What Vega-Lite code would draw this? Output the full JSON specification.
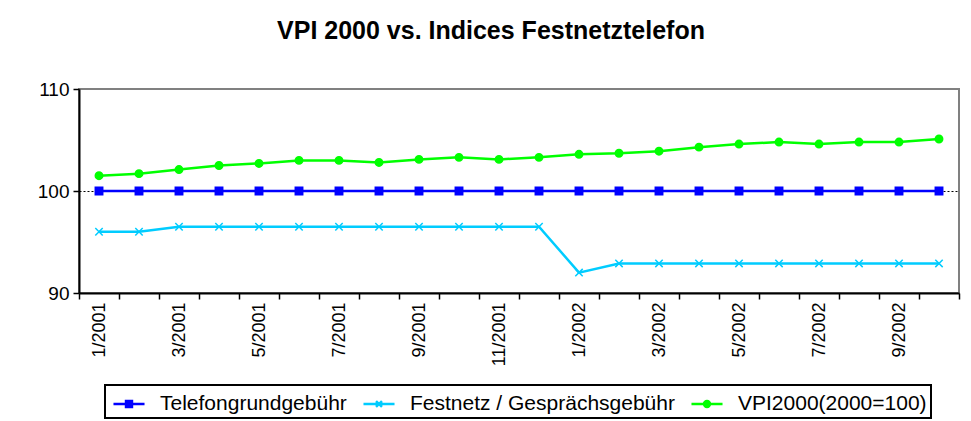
{
  "$schema": "https://vega.github.io/schema/vega-lite/v6.json",
  "width": 880,
  "height": 204,
  "autosize": {"type": "none"},
  "padding": {"left": 79, "top": 89, "right": 12, "bottom": 128},
  "background": "white",
  "title": {
    "text": "VPI 2000 vs. Indices Festnetztelefon",
    "font": "Liberation Sans",
    "fontSize": 25,
    "fontWeight": "bold",
    "color": "black",
    "anchor": "middle",
    "frame": "group",
    "dx": -28,
    "offset": 36
  },
  "config": {
    "view": {"stroke": "#808080", "strokeWidth": 2},
    "font": "Liberation Sans"
  },
  "data": {
    "values": [
      {"m": "1/2001", "s": "Telefongrundgebühr", "v": 100}, {"m": "1/2001", "s": "Festnetz / Gesprächsgebühr", "v": 96.0}, {"m": "1/2001", "s": "VPI2000(2000=100)", "v": 101.5},
      {"m": "2/2001", "s": "Telefongrundgebühr", "v": 100}, {"m": "2/2001", "s": "Festnetz / Gesprächsgebühr", "v": 96.0}, {"m": "2/2001", "s": "VPI2000(2000=100)", "v": 101.7},
      {"m": "3/2001", "s": "Telefongrundgebühr", "v": 100}, {"m": "3/2001", "s": "Festnetz / Gesprächsgebühr", "v": 96.5}, {"m": "3/2001", "s": "VPI2000(2000=100)", "v": 102.1},
      {"m": "4/2001", "s": "Telefongrundgebühr", "v": 100}, {"m": "4/2001", "s": "Festnetz / Gesprächsgebühr", "v": 96.5}, {"m": "4/2001", "s": "VPI2000(2000=100)", "v": 102.5},
      {"m": "5/2001", "s": "Telefongrundgebühr", "v": 100}, {"m": "5/2001", "s": "Festnetz / Gesprächsgebühr", "v": 96.5}, {"m": "5/2001", "s": "VPI2000(2000=100)", "v": 102.7},
      {"m": "6/2001", "s": "Telefongrundgebühr", "v": 100}, {"m": "6/2001", "s": "Festnetz / Gesprächsgebühr", "v": 96.5}, {"m": "6/2001", "s": "VPI2000(2000=100)", "v": 103.0},
      {"m": "7/2001", "s": "Telefongrundgebühr", "v": 100}, {"m": "7/2001", "s": "Festnetz / Gesprächsgebühr", "v": 96.5}, {"m": "7/2001", "s": "VPI2000(2000=100)", "v": 103.0},
      {"m": "8/2001", "s": "Telefongrundgebühr", "v": 100}, {"m": "8/2001", "s": "Festnetz / Gesprächsgebühr", "v": 96.5}, {"m": "8/2001", "s": "VPI2000(2000=100)", "v": 102.8},
      {"m": "9/2001", "s": "Telefongrundgebühr", "v": 100}, {"m": "9/2001", "s": "Festnetz / Gesprächsgebühr", "v": 96.5}, {"m": "9/2001", "s": "VPI2000(2000=100)", "v": 103.1},
      {"m": "10/2001", "s": "Telefongrundgebühr", "v": 100}, {"m": "10/2001", "s": "Festnetz / Gesprächsgebühr", "v": 96.5}, {"m": "10/2001", "s": "VPI2000(2000=100)", "v": 103.3},
      {"m": "11/2001", "s": "Telefongrundgebühr", "v": 100}, {"m": "11/2001", "s": "Festnetz / Gesprächsgebühr", "v": 96.5}, {"m": "11/2001", "s": "VPI2000(2000=100)", "v": 103.1},
      {"m": "12/2001", "s": "Telefongrundgebühr", "v": 100}, {"m": "12/2001", "s": "Festnetz / Gesprächsgebühr", "v": 96.5}, {"m": "12/2001", "s": "VPI2000(2000=100)", "v": 103.3},
      {"m": "1/2002", "s": "Telefongrundgebühr", "v": 100}, {"m": "1/2002", "s": "Festnetz / Gesprächsgebühr", "v": 92.0}, {"m": "1/2002", "s": "VPI2000(2000=100)", "v": 103.6},
      {"m": "2/2002", "s": "Telefongrundgebühr", "v": 100}, {"m": "2/2002", "s": "Festnetz / Gesprächsgebühr", "v": 92.9}, {"m": "2/2002", "s": "VPI2000(2000=100)", "v": 103.7},
      {"m": "3/2002", "s": "Telefongrundgebühr", "v": 100}, {"m": "3/2002", "s": "Festnetz / Gesprächsgebühr", "v": 92.9}, {"m": "3/2002", "s": "VPI2000(2000=100)", "v": 103.9},
      {"m": "4/2002", "s": "Telefongrundgebühr", "v": 100}, {"m": "4/2002", "s": "Festnetz / Gesprächsgebühr", "v": 92.9}, {"m": "4/2002", "s": "VPI2000(2000=100)", "v": 104.3},
      {"m": "5/2002", "s": "Telefongrundgebühr", "v": 100}, {"m": "5/2002", "s": "Festnetz / Gesprächsgebühr", "v": 92.9}, {"m": "5/2002", "s": "VPI2000(2000=100)", "v": 104.6},
      {"m": "6/2002", "s": "Telefongrundgebühr", "v": 100}, {"m": "6/2002", "s": "Festnetz / Gesprächsgebühr", "v": 92.9}, {"m": "6/2002", "s": "VPI2000(2000=100)", "v": 104.8},
      {"m": "7/2002", "s": "Telefongrundgebühr", "v": 100}, {"m": "7/2002", "s": "Festnetz / Gesprächsgebühr", "v": 92.9}, {"m": "7/2002", "s": "VPI2000(2000=100)", "v": 104.6},
      {"m": "8/2002", "s": "Telefongrundgebühr", "v": 100}, {"m": "8/2002", "s": "Festnetz / Gesprächsgebühr", "v": 92.9}, {"m": "8/2002", "s": "VPI2000(2000=100)", "v": 104.8},
      {"m": "9/2002", "s": "Telefongrundgebühr", "v": 100}, {"m": "9/2002", "s": "Festnetz / Gesprächsgebühr", "v": 92.9}, {"m": "9/2002", "s": "VPI2000(2000=100)", "v": 104.8},
      {"m": "10/2002", "s": "Telefongrundgebühr", "v": 100}, {"m": "10/2002", "s": "Festnetz / Gesprächsgebühr", "v": 92.9}, {"m": "10/2002", "s": "VPI2000(2000=100)", "v": 105.1}
    ]
  },
  "encoding": {
    "x": {
      "field": "m",
      "type": "nominal",
      "sort": null,
      "scale": {"paddingInner": 0, "paddingOuter": 0},
      "axis": {
        "title": null,
        "tickBand": "extent",
        "labelAngle": -90,
        "labelAlign": "right",
        "labelBaseline": "middle",
        "labelFont": "Liberation Sans",
        "labelFontSize": 18,
        "labelColor": "black",
        "labelPadding": 3,
        "labelOverlap": false,
        "labelExpr": "indexof(['1','3','5','7','9','11'], split(datum.value, '/')[0]) >= 0 ? datum.value : ''",
        "tickColor": "black",
        "tickSize": 6,
        "tickWidth": 1.5,
        "domainColor": "black",
        "domainWidth": 2,
        "grid": false
      }
    },
    "y": {
      "field": "v",
      "type": "quantitative",
      "scale": {"domain": [90, 110], "nice": false, "zero": false},
      "axis": {
        "title": null,
        "values": [90, 100, 110],
        "labelFont": "Liberation Sans",
        "labelFontSize": 19,
        "labelColor": "black",
        "labelPadding": 4,
        "tickColor": "black",
        "tickSize": 6,
        "tickWidth": 1.5,
        "domainColor": "black",
        "domainWidth": 2,
        "grid": true,
        "gridColor": "black",
        "gridDash": [2, 2],
        "gridWidth": 1,
        "gridOpacity": {"condition": {"test": "datum.value == 100", "value": 1}, "value": 0}
      }
    }
  },
  "layer": [
    {
      "mark": {"type": "line", "strokeWidth": 2.5},
      "encoding": {
        "color": {
          "field": "s",
          "type": "nominal",
          "sort": null,
          "scale": {
            "domain": ["Telefongrundgebühr", "Festnetz / Gesprächsgebühr", "VPI2000(2000=100)"],
            "range": ["#0000FF", "#00CCFF", "#00FF00"]
          },
          "legend": {
            "title": null,
            "orient": "none",
            "legendX": 26,
            "legendY": 296,
            "direction": "horizontal",
            "labelFont": "Liberation Sans",
            "labelFontSize": 21,
            "labelColor": "black",
            "labelLimit": 0,
            "labelOffset": 16,
            "columnPadding": 11,
            "symbolSize": 729,
            "symbolOffset": 5,
            "symbolStrokeWidth": 2.5,
            "padding": 4,
            "strokeColor": "black",
            "encode": {
              "legend": {"update": {"strokeWidth": {"value": 2}}},
              "symbols": {
                "update": {
                  "shape": {"signal": "datum.value == 'Telefongrundgebühr' ? 'M-1.15,0H1.15M-0.22,-0.22H0.22V0.22H-0.22Z' : datum.value == 'VPI2000(2000=100)' ? 'M-1.15,0H1.15M-0.22,0A0.22,0.22,0,1,0,0.22,0A0.22,0.22,0,1,0,-0.22,0Z' : 'M-1.15,0H1.15M-0.22,-0.22L0.22,0.22M-0.22,0.22L0.22,-0.22'"},
                  "fill": {"scale": "color", "field": "value"},
                  "stroke": {"scale": "color", "field": "value"},
                  "strokeWidth": {"value": 2.5},
                  "opacity": {"value": 1}
                }
              }
            }
          }
        }
      }
    },
    {
      "mark": {"type": "point", "filled": false, "size": 55, "opacity": 1, "strokeWidth": 1.5},
      "encoding": {
        "color": {"field": "s", "type": "nominal", "legend": null},
        "shape": {
          "condition": [
            {"test": "datum.s == 'Telefongrundgebühr'", "value": "square"},
            {"test": "datum.s == 'Festnetz / Gesprächsgebühr'", "value": "M-1,-1L1,1M-1,1L1,-1"}
          ],
          "value": "circle"
        },
        "fill": {
          "condition": [
            {"test": "datum.s == 'Telefongrundgebühr'", "value": "#0000FF"},
            {"test": "datum.s == 'Festnetz / Gesprächsgebühr'", "value": "transparent"}
          ],
          "value": "#00FF00"
        }
      }
    }
  ]
}
